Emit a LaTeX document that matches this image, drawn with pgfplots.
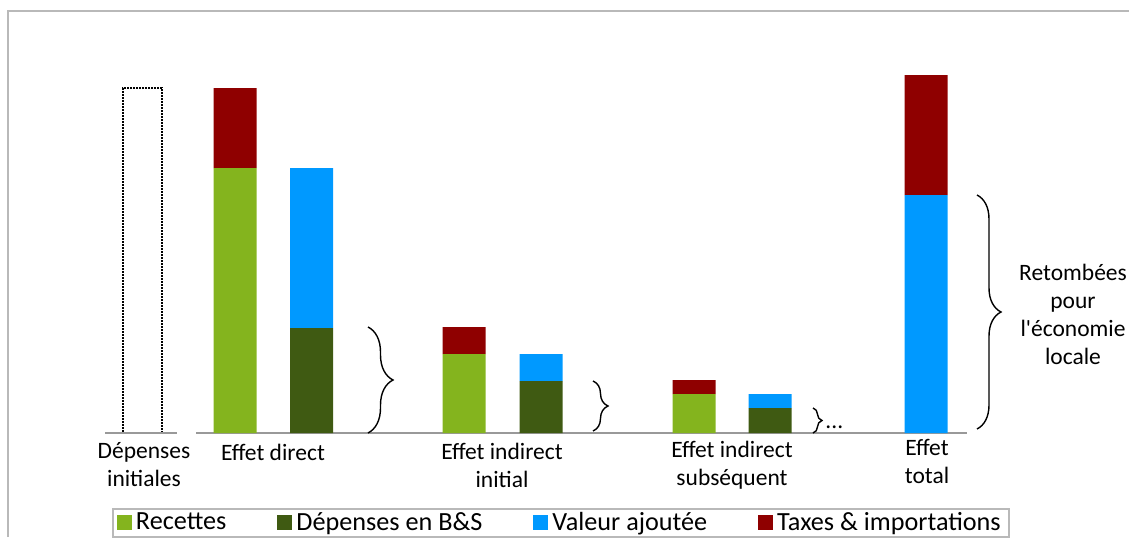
\documentclass[border=0pt]{standalone}
\usepackage{fontspec}
\setmainfont{Carlito}
\usepackage{pgfplots}
\pgfplotsset{compat=1.18}
\usetikzlibrary{decorations.pathreplacing}

\definecolor{recettes}{HTML}{84B41E}
\definecolor{depenses}{HTML}{3F5A12}
\definecolor{valeur}{HTML}{0099FF}
\definecolor{taxes}{HTML}{8F0000}

% one axis unit = one pixel of the reference (0.5pt)
\pgfplotsset{
  base/.style={
    scale only axis, width=564.5pt, height=268.5pt,
    xmin=0, xmax=1129, ymin=-104, ymax=433,
    hide axis, clip=false,
  },
  sq/.style={legend image code/.code={\fill[##1] (0pt,-3.75pt) rectangle (7.5pt,3.75pt);}},
}

\begin{document}
\fontsize{11.75}{14}\selectfont
\begin{tikzpicture}
% dotted bar: initial spending
\begin{axis}[base, name=ax, ybar, bar width=39]
  \addplot[draw=black, fill=none, line width=0.8pt, dash pattern=on 0.8pt off 0.7pt]
    coordinates {(142.5,345)};
  % frame and baseline
  \draw[gray!55, line width=1pt] (axis cs:8,-104) -- (axis cs:8,422) -- (axis cs:1129,422);
  \draw[gray!80, line width=0.75pt] (axis cs:105,0) -- (axis cs:177,0);
  \draw[gray!80, line width=0.75pt] (axis cs:196,0) -- (axis cs:967,0);
  % braces
  \draw[decorate, decoration={brace, amplitude=12.5pt}, line width=0.7pt]
    (axis cs:368,106) -- (axis cs:368,0);
  \draw[decorate, decoration={brace, amplitude=7.5pt}, line width=0.7pt]
    (axis cs:593,52) -- (axis cs:593,2);
  \draw[decorate, decoration={brace, amplitude=4.5pt}, line width=0.7pt]
    (axis cs:813,25) -- (axis cs:813,0);
  \draw[decorate, decoration={brace, amplitude=12pt}, line width=0.7pt]
    (axis cs:977,238) -- (axis cs:977,4);
  \node[anchor=base west, inner sep=0pt] at (axis cs:825,5) {...};
  % category labels
  \node[align=center] at (axis cs:144,-32) {Dépenses\\initiales};
  \node at (axis cs:273,-19) {Effet direct};
  \node[align=center] at (axis cs:502,-32) {Effet indirect\\initial};
  \node[align=center] at (axis cs:732,-32) {Effet indirect\\subséquent};
  \node[align=center] at (axis cs:927,-28.5) {Effet\\total};
  \node[align=center] at (axis cs:1073,118.5) {Retombées\\pour\\l\textquotesingle économie\\locale};
\end{axis}

% stacked effects
\begin{axis}[base, ybar stacked, bar width=43,
  legend columns=4,
  legend style={at={(0.0992,0.054)}, anchor=north west,
    draw=gray!55, line width=1pt, inner xsep=2pt, inner ysep=0.5pt,
    font=\fontsize{13.1}{14}\selectfont,
    nodes={inner xsep=2pt, inner ysep=1pt},
    /tikz/every even column/.append style={column sep=23.5pt}},
]
  \addplot[fill=recettes, draw=none, sq] coordinates
    {(235,265) (311.5,0) (464,79) (541,0) (694,39) (770,0) (926,0)};
  \addplot[fill=depenses, draw=none, sq] coordinates
    {(235,0) (311.5,105) (464,0) (541,52) (694,0) (770,25) (926,0)};
  \addplot[fill=valeur, draw=none, sq] coordinates
    {(235,0) (311.5,160) (464,0) (541,27) (694,0) (770,14) (926,238)};
  \addplot[fill=taxes, draw=none, sq] coordinates
    {(235,80) (311.5,0) (464,27) (541,0) (694,14) (770,0) (926,120)};
  \legend{Recettes, Dépenses en B\&S, Valeur ajoutée, Taxes \& importations}
\end{axis}
\pgfresetboundingbox
\useasboundingbox (ax.south west) rectangle (ax.north east);
\end{tikzpicture}
\end{document}
